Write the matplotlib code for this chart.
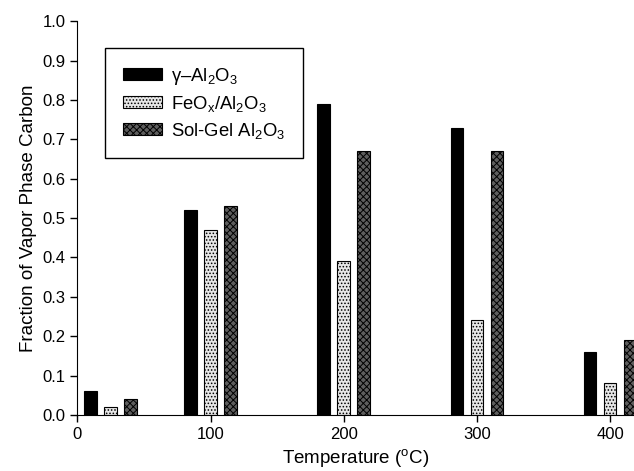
import matplotlib
matplotlib.use("Agg")
import matplotlib.pyplot as plt
import numpy as np

plt.rcParams['font.family'] = ['Liberation Sans', 'DejaVu Sans']
plt.rcParams['mathtext.fontset'] = 'custom'
plt.rcParams['mathtext.rm'] = 'Liberation Sans'
plt.rcParams['mathtext.it'] = 'Liberation Sans'
plt.rcParams['hatch.linewidth'] = 0.7

# Data
gamma_x = [10, 85, 185, 285, 385]
gamma_y = [0.06, 0.52, 0.79, 0.73, 0.16]
feo_x = [25, 100, 200, 300, 400]
feo_y = [0.02, 0.47, 0.39, 0.24, 0.08]
solgel_x = [40, 115, 215, 315, 415]
solgel_y = [0.04, 0.53, 0.67, 0.67, 0.19]
labels = [r'$\gamma$–Al$_2$O$_3$', r'FeO$_x$/Al$_2$O$_3$', r'Sol-Gel Al$_2$O$_3$']

fig = plt.figure(figsize=(6.34, 4.71), dpi=100)
ax = fig.add_axes([0.122, 0.119, 0.878, 0.836])

w = 9.5
ax.bar(gamma_x, gamma_y, width=w, color='black', edgecolor='black', linewidth=0.8, label=labels[0])
ax.bar(feo_x, feo_y, width=w, color='#e6e6e6', edgecolor='black', linewidth=0.8,
       hatch='.....', label=labels[1])
ax.bar(solgel_x, solgel_y, width=w, color='#5e5e5e', edgecolor='black', linewidth=0.8,
       hatch='xxxxx', label=labels[2])

ax.set_xlim(0, 418)
ax.set_ylim(0, 1.0)
ax.set_xticks([0, 100, 200, 300, 400])
ax.set_yticks(np.arange(0, 1.01, 0.1))
ax.set_yticklabels([f'{v:.1f}' for v in np.arange(0, 1.01, 0.1)])
ax.tick_params(direction='out', length=5, width=1, labelsize=12)
ax.spines['top'].set_visible(False)
ax.spines['right'].set_visible(False)
ax.set_xlabel('Temperature ($^{\\rm o}$C)', fontsize=13.5)
ax.set_ylabel('Fraction of Vapor Phase Carbon', fontsize=13.5)

leg = ax.legend(loc='upper left', bbox_to_anchor=(0.05, 0.932), fontsize=13.3,
                fancybox=False, edgecolor='black', framealpha=1,
                handlelength=2.1, handleheight=0.6, borderpad=0.95, labelspacing=0.38,
                handletextpad=0.5, borderaxespad=0)
leg.get_frame().set_linewidth(1.0)

fig.savefig('out.png', dpi=100)
